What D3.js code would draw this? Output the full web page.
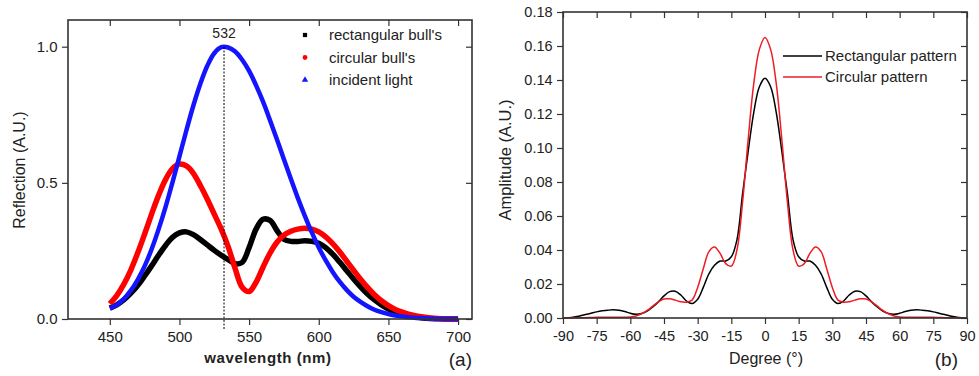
<!DOCTYPE html>
<html>
<head>
<meta charset="utf-8">
<script src="https://cdn.jsdelivr.net/npm/d3@7"></script>
<style>
  body { margin: 0; background: #fff; }
  text { font-family: "Liberation Sans", Arial, sans-serif; fill: #222; }
</style>
</head>
<body>
<div id="chart-area"></div>
<script>
// DATA
// ****

// panel (a)
let wavelength = [450, 455, 460, 465, 470, 475, 480, 485, 490, 495, 500, 505, 510, 515, 520, 525, 530,
  535, 540, 545, 550, 555, 560, 565, 570, 575, 580, 585, 590, 595, 600, 605, 610, 615, 620, 625, 630,
  635, 640, 645, 650, 655, 660, 665, 670, 675, 680, 685, 690, 695, 700]
let rectBull = [0.040, 0.052, 0.070, 0.094, 0.123, 0.158, 0.195, 0.234, 0.270, 0.300, 0.316, 0.320, 0.310,
  0.292, 0.272, 0.252, 0.234, 0.218, 0.203, 0.208, 0.262, 0.330, 0.366, 0.362, 0.325, 0.293, 0.285, 0.285,
  0.287, 0.285, 0.278, 0.262, 0.238, 0.209, 0.178, 0.147, 0.118, 0.092, 0.070, 0.052, 0.037, 0.026, 0.018,
  0.012, 0.007, 0.004, 0.002, 0.001, 0.000, 0.000, 0.000]
let circBull = [0.056, 0.086, 0.127, 0.179, 0.242, 0.312, 0.385, 0.454, 0.512, 0.552, 0.569, 0.562, 0.535,
  0.490, 0.440, 0.385, 0.330, 0.265, 0.185, 0.117, 0.101, 0.135, 0.190, 0.242, 0.282, 0.308, 0.322, 0.330,
  0.333, 0.330, 0.320, 0.302, 0.277, 0.247, 0.213, 0.179, 0.146, 0.116, 0.089, 0.067, 0.049, 0.035, 0.025,
  0.017, 0.011, 0.007, 0.004, 0.002, 0.001, 0.000, 0.000]
let incident = [0.040, 0.052, 0.073, 0.104, 0.144, 0.194, 0.256, 0.329, 0.411, 0.502, 0.597, 0.693, 0.784,
  0.864, 0.930, 0.976, 0.998, 0.997, 0.982, 0.952, 0.911, 0.858, 0.798, 0.730, 0.659, 0.586, 0.514, 0.444,
  0.379, 0.318, 0.263, 0.215, 0.173, 0.137, 0.107, 0.082, 0.063, 0.047, 0.034, 0.025, 0.018, 0.013, 0.009,
  0.006, 0.004, 0.003, 0.002, 0.001, 0.001, 0.000, 0.000]
let seriesA = ["rectangular bull's", "circular bull's", "incident light"]
let peakLine = 532
let ticksA_x = [450, 500, 550, 600, 650, 700]
let ticksA_y = [0, 0.5, 1.0]

// panel (b)
let degree = [-90, -87.5, -85, -82.5, -80, -77.5, -75, -72.5, -70, -67.5, -65, -62.5, -60, -57.5, -55,
  -52.5, -50, -47.5, -45, -42.5, -40, -37.5, -35, -32.5, -30, -27.5, -25, -22.5, -20, -17.5, -15, -12.5,
  -10, -7.5, -5, -2.5, 0, 2.5, 5, 7.5, 10, 12.5, 15, 17.5, 20, 22.5, 25, 27.5, 30, 32.5, 35, 37.5, 40,
  42.5, 45, 47.5, 50, 52.5, 55, 57.5, 60, 62.5, 65, 67.5, 70, 72.5, 75, 77.5, 80, 82.5, 85, 87.5, 90]
let rectPattern = [0.0000, 0.0002, 0.0006, 0.0012, 0.0020, 0.0028, 0.0036, 0.0042, 0.0046, 0.0048, 0.0045,
  0.0038, 0.0028, 0.0022, 0.0026, 0.0040, 0.0065, 0.0095, 0.0130, 0.0155, 0.0157, 0.0135, 0.0100, 0.0085,
  0.0110, 0.0180, 0.0260, 0.0310, 0.0335, 0.0335, 0.0360, 0.0460, 0.0730, 0.0980, 0.1210, 0.1360, 0.1410,
  0.1360, 0.1210, 0.0980, 0.0730, 0.0460, 0.0360, 0.0335, 0.0335, 0.0310, 0.0260, 0.0180, 0.0110, 0.0085,
  0.0100, 0.0135, 0.0157, 0.0155, 0.0130, 0.0095, 0.0065, 0.0040, 0.0026, 0.0022, 0.0028, 0.0038, 0.0045,
  0.0048, 0.0046, 0.0042, 0.0036, 0.0028, 0.0020, 0.0012, 0.0006, 0.0002, 0.0000]
let circPattern = [0.0000, 0.0000, 0.0001, 0.0001, 0.0002, 0.0003, 0.0004, 0.0004, 0.0005, 0.0005, 0.0005,
  0.0005, 0.0006, 0.0012, 0.0025, 0.0045, 0.0070, 0.0095, 0.0112, 0.0113, 0.0105, 0.0095, 0.0093, 0.0105,
  0.0180, 0.0290, 0.0390, 0.0418, 0.0380, 0.0320, 0.0305, 0.0400, 0.0680, 0.1050, 0.1380, 0.1580, 0.1650,
  0.1580, 0.1380, 0.1050, 0.0680, 0.0400, 0.0305, 0.0320, 0.0380, 0.0418, 0.0390, 0.0290, 0.0180, 0.0105,
  0.0093, 0.0095, 0.0105, 0.0113, 0.0112, 0.0095, 0.0070, 0.0045, 0.0025, 0.0012, 0.0006, 0.0005, 0.0005,
  0.0005, 0.0005, 0.0004, 0.0004, 0.0003, 0.0002, 0.0001, 0.0001, 0.0000, 0.0000]
let seriesB = ["Rectangular pattern", "Circular pattern"]
let ticksB_x = [-90, -75, -60, -45, -30, -15, 0, 15, 30, 45, 60, 75, 90]
let ticksB_y = [0, 0.02, 0.04, 0.06, 0.08, 0.10, 0.12, 0.14, 0.16, 0.18]


// CANVAS
// ******

let svg = d3.select("#chart-area")
  .append("svg")
    .attr("width", 979)
    .attr("height", 376)

// draws the boxed frame with outward ticks left/bottom and inward ticks top/right
function drawFrame(g, x, y, xMajor, xMinor, yMajor, yMinor, xFmt, yFmt, fs) {
  let w = x.range()[1], h = y.range()[0]

  let bottom = g.append("g").attr("transform", "translate(0," + h + ")")
  bottom.call(d3.axisBottom(x).tickValues(xMinor).tickSize(3).tickFormat(""))
  bottom.call(d3.axisBottom(x).tickValues(xMajor).tickSize(6).tickFormat(xFmt))
  let top = g.append("g")
  top.call(d3.axisTop(x).tickValues(xMinor).tickSize(-3).tickFormat(""))
  top.call(d3.axisTop(x).tickValues(xMajor).tickSize(-6).tickFormat(""))

  let left = g.append("g")
  left.call(d3.axisLeft(y).tickValues(yMinor).tickSize(3).tickFormat(""))
  left.call(d3.axisLeft(y).tickValues(yMajor).tickSize(6).tickFormat(yFmt))
  let right = g.append("g").attr("transform", "translate(" + w + ",0)")
  right.call(d3.axisRight(y).tickValues(yMinor).tickSize(-3).tickFormat(""))
  right.call(d3.axisRight(y).tickValues(yMajor).tickSize(-6).tickFormat(""))

  g.selectAll(".domain").remove()
  g.selectAll(".tick line").attr("stroke", "#333").attr("stroke-width", 1.2)
  g.selectAll(".tick text")
    .attr("font-size", fs + "px")
    .attr("font-family", "Liberation Sans, Arial, sans-serif")
    .attr("fill", "#222")
  bottom.selectAll(".tick text").attr("dy", "0.95em")
  left.selectAll(".tick text").attr("dx", "-0.1em")

  g.append("rect")
    .attr("width", w)
    .attr("height", h)
    .attr("fill", "none")
    .attr("stroke", "#333")
    .attr("stroke-width", 1.6)
}


// PANEL (a)
// *********

let gA = svg.append("g").attr("transform", "translate(68, 20)")
let wA = 404, hA = 299

let xA = d3.scaleLinear().domain([420, 710]).range([0, wA])
let yA = d3.scaleLinear().domain([0, 1.098]).range([hA, 0])

let colorsA = ["#000000", "#ff0000", "#1414ff"]
let dataA = [rectBull, circBull, incident]

let lineA = d3.line()
  .x((d, i) => xA(wavelength[i]))
  .y(d => yA(d))
  .curve(d3.curveCatmullRom)

dataA.forEach((vals, k) => {
  gA.append("path")
    .datum(vals)
    .attr("d", lineA)
    .attr("fill", "none")
    .attr("stroke", colorsA[k])
    .attr("stroke-width", k == 2 ? 4.5 : 5.5)
    .attr("stroke-linejoin", "round")
})

// dotted peak line
gA.append("line")
  .attr("x1", xA(peakLine)).attr("x2", xA(peakLine))
  .attr("y1", yA(0) + 10).attr("y2", yA(1.0))
  .attr("stroke", "#000")
  .attr("stroke-width", 1)
  .attr("stroke-dasharray", "2,1.5")

gA.append("text")
  .attr("x", xA(peakLine))
  .attr("y", yA(1.0) - 9)
  .attr("text-anchor", "middle")
  .attr("font-size", "14px")
  .text(peakLine)

drawFrame(gA, xA, yA, ticksA_x, d3.range(425, 701, 25), ticksA_y, [0.25, 0.75],
  d => String(d), d3.format(".1f"), 15)

// legend
let symbolsA = [d3.symbolSquare, d3.symbolCircle, d3.symbolTriangle]
seriesA.forEach((name, k) => {
  let yy = 15 + k * 22.5
  gA.append("path")
    .attr("transform", "translate(237," + yy + ")")
    .attr("d", d3.symbol(symbolsA[k], 18)())
    .attr("fill", colorsA[k])
  gA.append("text")
    .attr("x", 261)
    .attr("y", yy + 5)
    .attr("font-size", "15px")
    .text(name)
})

// labels
svg.append("text")
  .attr("x", -170)
  .attr("y", 25)
  .attr("font-size", "16px")
  .attr("text-anchor", "middle")
  .attr("transform", "rotate(-90)")
  .text("Reflection (A.U.)")

svg.append("text")
  .attr("x", 268)
  .attr("y", 363)
  .attr("font-size", "15px")
  .attr("font-weight", "bold")
  .attr("letter-spacing", "0.6px")
  .attr("text-anchor", "middle")
  .text("wavelength (nm)")

svg.append("text")
  .attr("x", 472)
  .attr("y", 366)
  .attr("font-size", "19px")
  .attr("text-anchor", "end")
  .text("(a)")


// PANEL (b)
// *********

let gB = svg.append("g").attr("transform", "translate(563, 12)")
let wB = 404, hB = 306

let xB = d3.scaleLinear().domain([-90, 90]).range([0, wB])
let yB = d3.scaleLinear().domain([0, 0.18]).range([hB, 0])

let colorsB = ["#000000", "#ee1c24"]
let dataB = [rectPattern, circPattern]

let lineB = d3.line()
  .x((d, i) => xB(degree[i]))
  .y(d => yB(d))
  .curve(d3.curveCatmullRom)

dataB.forEach((vals, k) => {
  gB.append("path")
    .datum(vals)
    .attr("d", lineB)
    .attr("fill", "none")
    .attr("stroke", colorsB[k])
    .attr("stroke-width", 1.5)
})

// plain hyphen for negative labels, as in the original
drawFrame(gB, xB, yB, ticksB_x, d3.range(-82.5, 90, 15), ticksB_y, d3.range(0.01, 0.18, 0.02),
  d => String(d), d3.format(".2f"), 14.5)

// legend
seriesB.forEach((name, k) => {
  let yy = 44 + k * 21
  gB.append("line")
    .attr("x1", 220).attr("x2", 259)
    .attr("y1", yy).attr("y2", yy)
    .attr("stroke", colorsB[k])
    .attr("stroke-width", 1.5)
  gB.append("text")
    .attr("x", 262)
    .attr("y", yy + 5)
    .attr("font-size", "15px")
    .text(name)
})

// labels
svg.append("text")
  .attr("x", -160)
  .attr("y", 511)
  .attr("font-size", "16.5px")
  .attr("text-anchor", "middle")
  .attr("transform", "rotate(-90)")
  .text("Amplitude (A.U.)")

svg.append("text")
  .attr("x", 766)
  .attr("y", 364)
  .attr("font-size", "16px")
  .attr("text-anchor", "middle")
  .text("Degree (°)")

svg.append("text")
  .attr("x", 958)
  .attr("y", 366)
  .attr("font-size", "19px")
  .attr("text-anchor", "end")
  .text("(b)")
</script>
</body>
</html>
